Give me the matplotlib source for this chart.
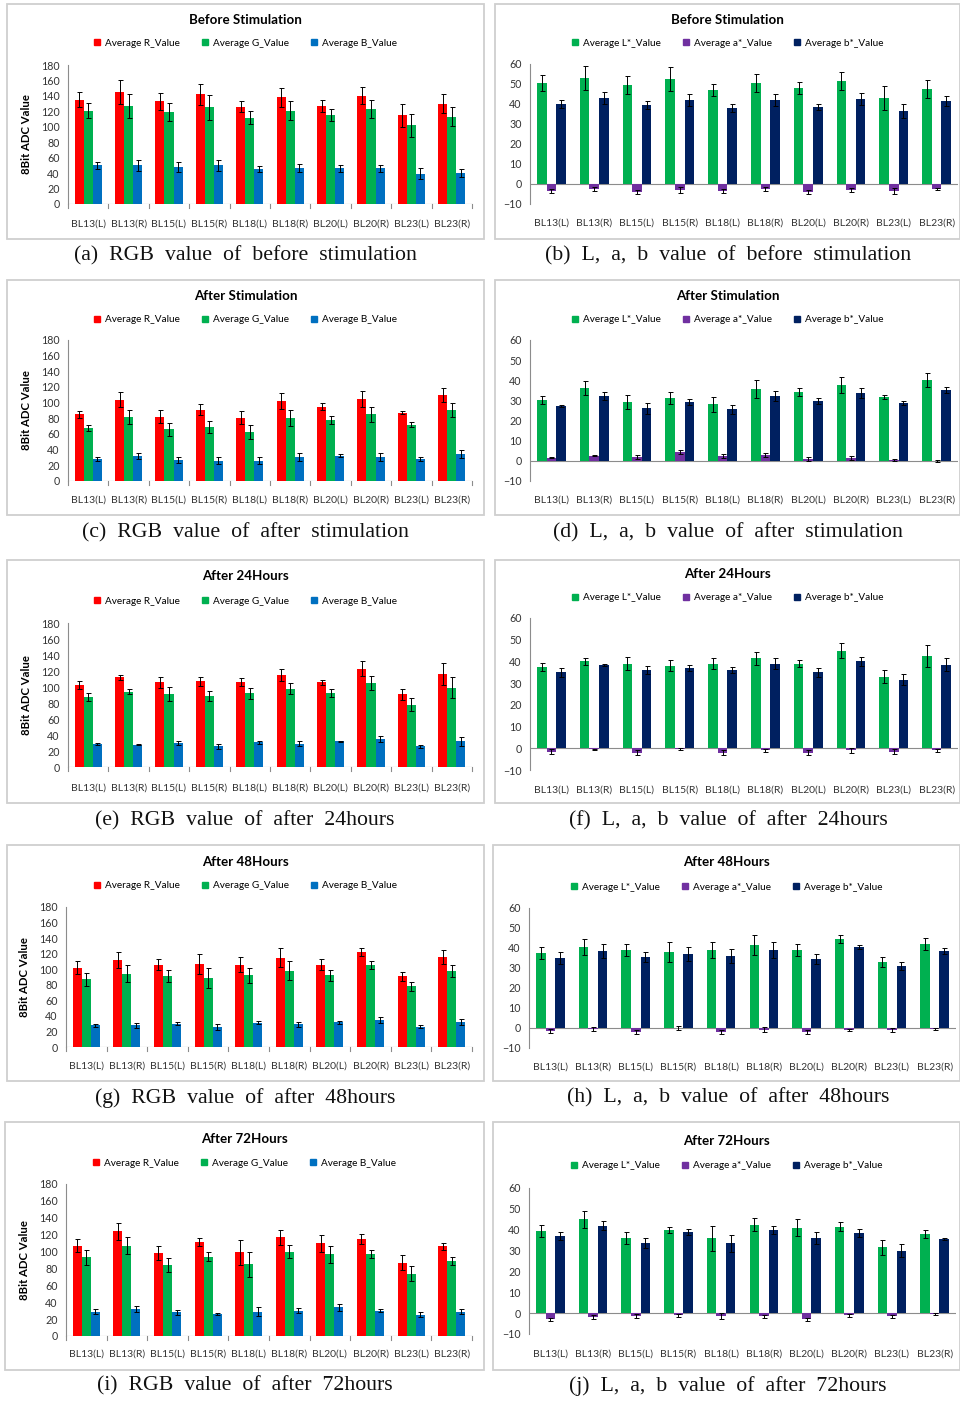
import numpy as np
import matplotlib
matplotlib.use('Agg')
import matplotlib.pyplot as plt
from matplotlib.patches import Rectangle, Patch
from matplotlib.transforms import blended_transform_factory

W, H = 960, 1403
plt.rcParams['font.family'] = ['Lato', 'DejaVu Sans']

samples = ['BL13(L)', 'BL13(R)', 'BL15(L)', 'BL15(R)', 'BL18(L)',
           'BL18(R)', 'BL20(L)', 'BL20(R)', 'BL23(L)', 'BL23(R)']

rgb_names = ['Average R_Value', 'Average G_Value', 'Average B_Value']
lab_names = ['Average L*_Value', 'Average a*_Value', 'Average b*_Value']
rgb_colors = ['#ff0000', '#00b050', '#0070c0']
lab_colors = ['#00b050', '#7030a0', '#002060']

# ---- before stimulation ----
before_R = [135, 145, 133, 142, 126, 138, 127, 140, 115, 130]
before_R_sd = [10, 15, 11, 14, 7, 12, 8, 11, 15, 12]
before_G = [121, 127, 119, 125, 112, 121, 115, 123, 102, 113]
before_G_sd = [10, 15, 12, 16, 8, 12, 8, 12, 15, 12]
before_B = [50, 50, 48, 50, 45, 47, 46, 46, 39, 40]
before_B_sd = [5, 7, 6, 7, 4, 5, 5, 5, 7, 5]

before_L = [50.5, 53, 49.5, 52.5, 47, 50.5, 48, 51.5, 43, 47.5]
before_L_sd = [4, 6, 4.5, 6, 3, 4.5, 3, 4.5, 6, 4.5]
before_a = [-3.5, -2.5, -4, -3, -3.5, -2.5, -4, -3, -3.5, -2.5]
before_a_sd = [1, 1, 1, 1.5, 1, 1, 1, 1, 1.5, 0.7]
before_b = [40, 43, 39.5, 42, 38, 42, 38.5, 42.5, 36.5, 41.5]
before_b_sd = [2, 3, 2, 3, 2, 3, 1.5, 3, 3.5, 2.5]

# ---- after stimulation ----
after_R = [85, 104, 82, 91, 81, 102, 95, 105, 87, 110]
after_R_sd = [4, 9, 8, 7, 8, 10, 4, 10, 2, 9]
after_G = [68, 82, 66, 69, 63, 80, 78, 85, 72, 91]
after_G_sd = [4, 9, 8, 8, 9, 10, 5, 10, 3, 9]
after_B = [28, 32, 27, 26, 26, 31, 32, 31, 28, 34]
after_B_sd = [2, 4, 4, 4, 4, 5, 2, 5, 2, 5]

after_L = [30, 36, 29, 31, 28, 35.5, 34, 37.5, 31.5, 40]
after_L_sd = [2, 3.5, 3.5, 3, 3.5, 4.5, 2, 4, 1, 3.5]
after_a = [1.5, 2.5, 2, 4.5, 2.5, 3, 1, 1.5, 0.5, -0.2]
after_a_sd = [0.3, 0.3, 1, 1, 1, 1, 1, 1, 0.5, 0.5]
after_b = [27, 32, 26, 29, 25.5, 32, 29.5, 33.5, 28.5, 35]
after_b_sd = [0.5, 2, 2.5, 1.5, 2, 2.5, 1.5, 2.5, 1, 1.5]

# ---- after 24 hours ----
h24_R = [102, 112, 106, 107, 106, 115, 106, 123, 91, 116]
h24_R_sd = [5, 3, 7, 6, 5, 7, 3, 9, 7, 14]
h24_G = [87, 94, 91, 89, 92, 98, 92, 105, 78, 99]
h24_G_sd = [5, 3, 9, 6, 7, 7, 5, 9, 8, 13]
h24_B = [29, 28, 30, 26, 31, 29, 32, 35, 26, 32]
h24_B_sd = [1, 1, 3, 3, 2, 3, 0.5, 4, 2, 6]

h24_L = [37.5, 40, 39, 38, 39, 41.5, 39, 45, 33, 42.5]
h24_L_sd = [2, 1.5, 3, 2.5, 2.5, 3, 1.5, 3.5, 3, 5]
h24_a = [-1.5, -0.5, -2, -0.3, -2, -1, -2, -1, -1.5, -0.8]
h24_a_sd = [1, 0.3, 1, 0.5, 1, 0.8, 1, 1, 1, 0.7]
h24_b = [35, 38.5, 36, 37, 36, 39, 35, 40, 31.5, 38.5]
h24_b_sd = [2, 0.5, 2, 1.5, 1.5, 2.5, 2, 2, 2.5, 3]

# ---- after 48 hours ----
h48_R = [102, 112, 106, 107, 106, 115, 106, 122, 91, 116]
h48_R_sd = [8, 10, 7, 13, 10, 12, 7, 5, 6, 9]
h48_G = [87, 94, 91, 89, 92, 98, 92, 105, 78, 98]
h48_G_sd = [8, 11, 8, 13, 10, 12, 7, 5, 6, 8]
h48_B = [28, 28, 30, 26, 31, 29, 32, 35, 26, 32]
h48_B_sd = [2, 3, 2, 4, 2, 3, 2, 4, 2, 4]

h48_L = [37.5, 40.5, 39, 38, 39, 41.5, 39, 44.5, 33, 42]
h48_L_sd = [3, 4, 3, 5, 4, 5, 3, 2, 2.5, 3]
h48_a = [-1.5, -0.3, -2, 0, -2, -0.8, -2, -1, -1, -0.5]
h48_a_sd = [1.2, 1, 1.2, 1, 1.2, 1.2, 1, 0.5, 1, 0.5]
h48_b = [35, 38.5, 35.5, 37, 36, 39, 34.5, 40.5, 31, 38.5]
h48_b_sd = [3, 3.5, 2.5, 3.5, 3.5, 4, 2.5, 1, 2, 1.5]

# ---- after 72 hours ----
h72_R = [107, 124, 98, 111, 99, 117, 110, 115, 87, 106]
h72_R_sd = [8, 10, 8, 5, 15, 9, 10, 6, 9, 4]
h72_G = [93, 107, 84, 94, 85, 100, 97, 97, 74, 89]
h72_G_sd = [9, 10, 8, 5, 15, 8, 10, 5, 9, 5]
h72_B = [29, 32, 28, 26, 29, 30, 34, 30, 25, 29]
h72_B_sd = [3, 4, 3, 1.5, 5, 3, 4, 2, 3, 3]

h72_L = [39.5, 45, 36, 40, 36, 42.5, 41, 41.5, 31.5, 38]
h72_L_sd = [3, 4, 3, 1.5, 6, 3, 4, 2, 3.5, 2]
h72_a = [-3, -2, -1.5, -1, -1.5, -1.5, -3, -1, -1.5, -0.5]
h72_a_sd = [0.8, 1, 1, 0.8, 1.5, 0.8, 0.8, 0.8, 0.8, 0.5]
h72_b = [37, 42, 33.5, 39, 33.5, 40, 36, 38.5, 30, 35.5]
h72_b_sd = [2, 2, 2.5, 1.5, 4, 2, 3, 2, 3, 0.5]

titles = ['Before Stimulation', 'After Stimulation', 'After 24Hours',
          'After 48Hours', 'After 72Hours']
rgb_captions = ['(a)  RGB  value  of  before  stimulation',
                '(c)  RGB  value  of  after  stimulation',
                '(e)  RGB  value  of  after  24hours',
                '(g)  RGB  value  of  after  48hours',
                '(i)  RGB  value  of  after  72hours']
lab_captions = ['(b)  L,  a,  b  value  of  before  stimulation',
                '(d)  L,  a,  b  value  of  after  stimulation',
                '(f)  L,  a,  b  value  of  after  24hours',
                '(h)  L,  a,  b  value  of  after  48hours',
                '(j)  L,  a,  b  value  of  after  72hours']

fig = plt.figure(figsize=(9.6, 14.03), dpi=100)
fig.patch.set_facecolor('white')


def fy(y):
    return 1 - y / H


def draw_panel(geom, title, names, colors, vals, errs, ylim, step, ylabel, caption, cap_x):
    box, plot, title_y, legend_y, label_y, cap_y, ylab_x = geom
    bx0, by0, bx1, by1 = box
    fig.patches.append(Rectangle((bx0 / W, fy(by1)), (bx1 - bx0) / W, (by1 - by0) / H,
                                 transform=fig.transFigure, fill=False,
                                 ec='#cfcfcf', lw=1.3))
    x0, x1, ytop, ybot = plot
    ax = fig.add_axes([x0 / W, fy(ybot), (x1 - x0) / W, (ybot - ytop) / H])
    x = np.arange(len(samples))
    w = 0.223
    for k in range(3):
        ax.bar(x + (k - 1) * w, vals[k], w, color=colors[k], yerr=errs[k],
               capsize=1.8, error_kw=dict(elinewidth=0.7, capthick=0.7, ecolor='black'),
               zorder=2)
    ax.set_xlim(-0.5, len(samples) - 0.5)
    ax.set_ylim(*ylim)
    ax.set_yticks(np.arange(ylim[0], ylim[1] + 1, step))
    ax.tick_params(axis='y', labelsize=7.7, labelcolor='#333333', length=0, pad=6)
    for s in ['top', 'right', 'bottom']:
        ax.spines[s].set_visible(False)
    ax.spines['left'].set_color('#8c8c8c')
    ax.spines['left'].set_linewidth(0.8)
    ax.axhline(0, color='#8c8c8c', lw=0.8, zorder=1)
    ax.set_xticks([])
    if ylim[0] == 0:
        for b in np.arange(-0.5, len(samples), 1.0):
            ax.plot([b, b], [0, -0.028 * (ylim[1] - ylim[0])], color='#8c8c8c',
                    lw=0.8, clip_on=False)
    tr = blended_transform_factory(ax.transData, fig.transFigure)
    for i, s in enumerate(samples):
        ax.text(i, fy(label_y), s, transform=tr, ha='center', va='center',
                fontsize=7.5, color='#333333')
    cx = (bx0 + bx1) / 2
    fig.text(cx / W, fy(title_y), title, ha='center', va='center',
             fontsize=9.6, fontweight='bold')
    handles = [Patch(color=c) for c in colors]
    fig.legend(handles, names, loc='center', bbox_to_anchor=(cx / W, fy(legend_y)),
               ncol=3, frameon=False, fontsize=7.2, handlelength=0.6, handleheight=0.6,
               handletextpad=0.5, columnspacing=2.2, borderpad=0)
    if ylabel:
        fig.text(ylab_x / W, fy((ytop + ybot) / 2), ylabel, rotation=90, ha='center',
                 va='center', fontsize=8.2, fontweight='bold')
    fig.text(cap_x / W, fy(cap_y), caption, ha='center', va='center',
             fontsize=15.7, family='Liberation Serif', color='#111111')


rgb_geom = [
    ((7, 4, 484, 239), (68, 472, 65, 204), 20, 43, 224, 256, 27),
    ((7, 280, 484, 515), (68, 472, 340, 481), 296, 320, 500, 533, 27),
    ((7, 560, 484, 803), (68, 472, 623, 767), 576, 601, 788, 821, 27),
    ((7, 845, 484, 1081), (66, 472, 907, 1047), 862, 886, 1066, 1098, 25),
    ((5, 1122, 484, 1370), (66, 472, 1184, 1336), 1139, 1163, 1354, 1386, 25),
]
lab_geom = [
    ((495, 4, 960, 239), (530, 958, 64, 204), 20, 43, 223, 256, 0),
    ((495, 280, 960, 515), (530, 958, 340, 481), 296, 320, 500, 533, 0),
    ((495, 560, 960, 803), (530, 958, 618, 770), 574, 598, 790, 821, 0),
    ((493, 845, 960, 1081), (529, 956, 908, 1048), 862, 887, 1067, 1098, 0),
    ((493, 1122, 960, 1370), (529, 956, 1188, 1334), 1141, 1166, 1354, 1386, 0),
]

rgb_vals = [
    ([before_R, before_G, before_B], [before_R_sd, before_G_sd, before_B_sd]),
    ([after_R, after_G, after_B], [after_R_sd, after_G_sd, after_B_sd]),
    ([h24_R, h24_G, h24_B], [h24_R_sd, h24_G_sd, h24_B_sd]),
    ([h48_R, h48_G, h48_B], [h48_R_sd, h48_G_sd, h48_B_sd]),
    ([h72_R, h72_G, h72_B], [h72_R_sd, h72_G_sd, h72_B_sd]),
]
lab_vals = [
    ([before_L, before_a, before_b], [before_L_sd, before_a_sd, before_b_sd]),
    ([after_L, after_a, after_b], [after_L_sd, after_a_sd, after_b_sd]),
    ([h24_L, h24_a, h24_b], [h24_L_sd, h24_a_sd, h24_b_sd]),
    ([h48_L, h48_a, h48_b], [h48_L_sd, h48_a_sd, h48_b_sd]),
    ([h72_L, h72_a, h72_b], [h72_L_sd, h72_a_sd, h72_b_sd]),
]

for r in range(5):
    draw_panel(rgb_geom[r], titles[r], rgb_names, rgb_colors, rgb_vals[r][0], rgb_vals[r][1],
               (0, 180), 20, '8Bit ADC Value', rgb_captions[r], 245)
    draw_panel(lab_geom[r], titles[r], lab_names, lab_colors, lab_vals[r][0], lab_vals[r][1],
               (-10, 60), 10, None, lab_captions[r], 728)

fig.savefig('out.png', dpi=100, facecolor='white')
